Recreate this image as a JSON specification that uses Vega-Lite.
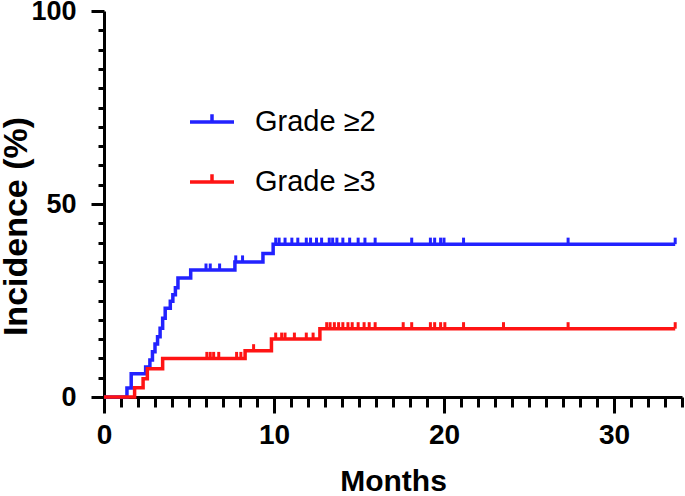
{
  "$schema": "https://vega.github.io/schema/vega-lite/v6.json",
  "width": 578,
  "height": 386,
  "autosize": "none",
  "padding": {"left": 104, "top": 11, "right": 3, "bottom": 99},
  "background": "white",
  "config": {"view": {"stroke": null}, "font": "Liberation Sans"},
  "datasets": {
    "steps": [
      {"grade": "Grade ≥2", "month": 0, "incidence": 0},
      {"grade": "Grade ≥2", "month": 1.35, "incidence": 2.3},
      {"grade": "Grade ≥2", "month": 1.6, "incidence": 6.0},
      {"grade": "Grade ≥2", "month": 2.45, "incidence": 7.8},
      {"grade": "Grade ≥2", "month": 2.7, "incidence": 9.6},
      {"grade": "Grade ≥2", "month": 2.85, "incidence": 11.7},
      {"grade": "Grade ≥2", "month": 3.0, "incidence": 13.7},
      {"grade": "Grade ≥2", "month": 3.15, "incidence": 15.6},
      {"grade": "Grade ≥2", "month": 3.3, "incidence": 17.8},
      {"grade": "Grade ≥2", "month": 3.45, "incidence": 20.4},
      {"grade": "Grade ≥2", "month": 3.6, "incidence": 23.0},
      {"grade": "Grade ≥2", "month": 3.9, "incidence": 24.8},
      {"grade": "Grade ≥2", "month": 4.05, "incidence": 26.5},
      {"grade": "Grade ≥2", "month": 4.2, "incidence": 28.3},
      {"grade": "Grade ≥2", "month": 4.35, "incidence": 30.8},
      {"grade": "Grade ≥2", "month": 5.1, "incidence": 32.9},
      {"grade": "Grade ≥2", "month": 7.7, "incidence": 35.0},
      {"grade": "Grade ≥2", "month": 9.35, "incidence": 37.2},
      {"grade": "Grade ≥2", "month": 9.95, "incidence": 39.6},
      {"grade": "Grade ≥2", "month": 33.6, "incidence": 39.6},
      {"grade": "Grade ≥3", "month": 0, "incidence": 0},
      {"grade": "Grade ≥3", "month": 1.8, "incidence": 2.4},
      {"grade": "Grade ≥3", "month": 2.3, "incidence": 4.7},
      {"grade": "Grade ≥3", "month": 2.55, "incidence": 7.3},
      {"grade": "Grade ≥3", "month": 3.45, "incidence": 10.0},
      {"grade": "Grade ≥3", "month": 8.3, "incidence": 12.0},
      {"grade": "Grade ≥3", "month": 9.85, "incidence": 15.0},
      {"grade": "Grade ≥3", "month": 12.7, "incidence": 17.7},
      {"grade": "Grade ≥3", "month": 33.6, "incidence": 17.7}
    ],
    "censors": [
      {"grade": "Grade ≥2", "month": 6.0, "incidence": 32.9},
      {"grade": "Grade ≥2", "month": 6.25, "incidence": 32.9},
      {"grade": "Grade ≥2", "month": 6.8, "incidence": 32.9},
      {"grade": "Grade ≥2", "month": 7.75, "incidence": 35.0},
      {"grade": "Grade ≥2", "month": 8.15, "incidence": 35.0},
      {"grade": "Grade ≥2", "month": 10.1, "incidence": 39.6},
      {"grade": "Grade ≥2", "month": 10.3, "incidence": 39.6},
      {"grade": "Grade ≥2", "month": 10.65, "incidence": 39.6},
      {"grade": "Grade ≥2", "month": 11.05, "incidence": 39.6},
      {"grade": "Grade ≥2", "month": 11.4, "incidence": 39.6},
      {"grade": "Grade ≥2", "month": 11.9, "incidence": 39.6},
      {"grade": "Grade ≥2", "month": 12.15, "incidence": 39.6},
      {"grade": "Grade ≥2", "month": 12.5, "incidence": 39.6},
      {"grade": "Grade ≥2", "month": 12.8, "incidence": 39.6},
      {"grade": "Grade ≥2", "month": 13.25, "incidence": 39.6},
      {"grade": "Grade ≥2", "month": 13.45, "incidence": 39.6},
      {"grade": "Grade ≥2", "month": 13.7, "incidence": 39.6},
      {"grade": "Grade ≥2", "month": 14.05, "incidence": 39.6},
      {"grade": "Grade ≥2", "month": 14.45, "incidence": 39.6},
      {"grade": "Grade ≥2", "month": 14.95, "incidence": 39.6},
      {"grade": "Grade ≥2", "month": 15.35, "incidence": 39.6},
      {"grade": "Grade ≥2", "month": 15.95, "incidence": 39.6},
      {"grade": "Grade ≥2", "month": 18.1, "incidence": 39.6},
      {"grade": "Grade ≥2", "month": 19.2, "incidence": 39.6},
      {"grade": "Grade ≥2", "month": 19.45, "incidence": 39.6},
      {"grade": "Grade ≥2", "month": 19.8, "incidence": 39.6},
      {"grade": "Grade ≥2", "month": 20.0, "incidence": 39.6},
      {"grade": "Grade ≥2", "month": 21.15, "incidence": 39.6},
      {"grade": "Grade ≥2", "month": 27.3, "incidence": 39.6},
      {"grade": "Grade ≥2", "month": 33.6, "incidence": 39.6},
      {"grade": "Grade ≥3", "month": 6.05, "incidence": 10.0},
      {"grade": "Grade ≥3", "month": 6.25, "incidence": 10.0},
      {"grade": "Grade ≥3", "month": 6.45, "incidence": 10.0},
      {"grade": "Grade ≥3", "month": 6.75, "incidence": 10.0},
      {"grade": "Grade ≥3", "month": 7.8, "incidence": 10.0},
      {"grade": "Grade ≥3", "month": 8.05, "incidence": 10.0},
      {"grade": "Grade ≥3", "month": 8.8, "incidence": 12.0},
      {"grade": "Grade ≥3", "month": 10.1, "incidence": 15.0},
      {"grade": "Grade ≥3", "month": 10.45, "incidence": 15.0},
      {"grade": "Grade ≥3", "month": 10.65, "incidence": 15.0},
      {"grade": "Grade ≥3", "month": 11.2, "incidence": 15.0},
      {"grade": "Grade ≥3", "month": 11.9, "incidence": 15.0},
      {"grade": "Grade ≥3", "month": 12.3, "incidence": 15.0},
      {"grade": "Grade ≥3", "month": 13.1, "incidence": 17.7},
      {"grade": "Grade ≥3", "month": 13.3, "incidence": 17.7},
      {"grade": "Grade ≥3", "month": 13.55, "incidence": 17.7},
      {"grade": "Grade ≥3", "month": 13.8, "incidence": 17.7},
      {"grade": "Grade ≥3", "month": 14.05, "incidence": 17.7},
      {"grade": "Grade ≥3", "month": 14.35, "incidence": 17.7},
      {"grade": "Grade ≥3", "month": 14.6, "incidence": 17.7},
      {"grade": "Grade ≥3", "month": 14.95, "incidence": 17.7},
      {"grade": "Grade ≥3", "month": 15.3, "incidence": 17.7},
      {"grade": "Grade ≥3", "month": 15.6, "incidence": 17.7},
      {"grade": "Grade ≥3", "month": 15.95, "incidence": 17.7},
      {"grade": "Grade ≥3", "month": 17.6, "incidence": 17.7},
      {"grade": "Grade ≥3", "month": 18.1, "incidence": 17.7},
      {"grade": "Grade ≥3", "month": 19.2, "incidence": 17.7},
      {"grade": "Grade ≥3", "month": 19.45, "incidence": 17.7},
      {"grade": "Grade ≥3", "month": 19.8, "incidence": 17.7},
      {"grade": "Grade ≥3", "month": 20.05, "incidence": 17.7},
      {"grade": "Grade ≥3", "month": 21.15, "incidence": 17.7},
      {"grade": "Grade ≥3", "month": 23.5, "incidence": 17.7},
      {"grade": "Grade ≥3", "month": 27.3, "incidence": 17.7},
      {"grade": "Grade ≥3", "month": 33.6, "incidence": 17.7}
    ]
  },
  "encoding": {
    "x": {
      "field": "month",
      "type": "quantitative",
      "scale": {"domain": [0, 34], "nice": false, "zero": false},
      "axis": {
        "values": [0,1,2,3,4,5,6,7,8,9,10,11,12,13,14,15,16,17,18,19,20,21,22,23,24,25,26,27,28,29,30,31,32,33,34],
        "labelExpr": "datum.value % 10 === 0 ? datum.label : ''",
        "tickSize": {"condition": {"test": "datum.value % 10 === 0", "value": 16}, "value": 10},
        "tickWidth": 3,
        "tickColor": "black",
        "domainColor": "black",
        "domainWidth": 3,
        "grid": false,
        "labelFont": "Liberation Sans",
        "labelFontSize": 28,
        "labelFontWeight": "bold",
        "labelColor": "black",
        "labelPadding": 8,
        "labelFlush": false,
        "labelOverlap": false,
        "title": "Months",
        "titleFont": "Liberation Sans",
        "titleFontSize": 30,
        "titleFontWeight": "bold",
        "titleColor": "black",
        "titlePadding": 17
      }
    },
    "y": {
      "field": "incidence",
      "type": "quantitative",
      "scale": {"domain": [0, 100], "nice": false},
      "axis": {
        "values": [0,5,10,15,20,25,30,35,40,45,50,55,60,65,70,75,80,85,90,95,100],
        "labelExpr": "datum.value % 50 === 0 ? datum.label : ''",
        "tickSize": {"condition": {"test": "datum.value % 50 === 0", "value": 13}, "value": 6},
        "tickWidth": 3,
        "tickColor": "black",
        "domainColor": "black",
        "domainWidth": 3,
        "grid": false,
        "labelFont": "Liberation Sans",
        "labelFontSize": 27,
        "labelFontWeight": "bold",
        "labelColor": "black",
        "labelPadding": 15,
        "labelFlush": false,
        "labelOverlap": false,
        "title": "Incidence (%)",
        "titleFont": "Liberation Sans",
        "titleFontSize": 34,
        "titleFontWeight": "bold",
        "titleColor": "black",
        "titlePadding": -3,
        "titleY": 215
      }
    },
    "color": {
      "field": "grade",
      "type": "nominal",
      "scale": {"domain": ["Grade ≥2", "Grade ≥3"], "range": ["#2222ff", "#ff1414"]}
    }
  },
  "layer": [
    {
      "data": {"name": "steps"},
      "mark": {"type": "line", "interpolate": "step-after", "strokeWidth": 3.5, "clip": false},
      "encoding": {
        "color": {
          "field": "grade",
          "type": "nominal",
          "scale": {"domain": ["Grade ≥2", "Grade ≥3"], "range": ["#2222ff", "#ff1414"]},
          "legend": {
            "orient": "none",
            "legendX": 84,
            "legendY": 87,
            "title": null,
            "padding": 0,
            "symbolType": "M-1,0L1,0M0,0L0,-0.35",
            "symbolSize": 1936,
            "symbolStrokeWidth": 3.5,
            "symbolFillColor": "transparent",
            "labelFont": "Liberation Sans",
            "labelFontSize": 29,
            "labelColor": "black",
            "labelOffset": 19,
            "rowPadding": 21,
            "labelLimit": 300
          }
        }
      }
    },
    {
      "data": {"name": "censors"},
      "mark": {"type": "point", "shape": "M0,0L0,-1", "size": 169, "filled": false, "strokeWidth": 3, "opacity": 1, "clip": false},
      "encoding": {
        "color": {"field": "grade", "type": "nominal", "legend": null}
      }
    }
  ]
}
